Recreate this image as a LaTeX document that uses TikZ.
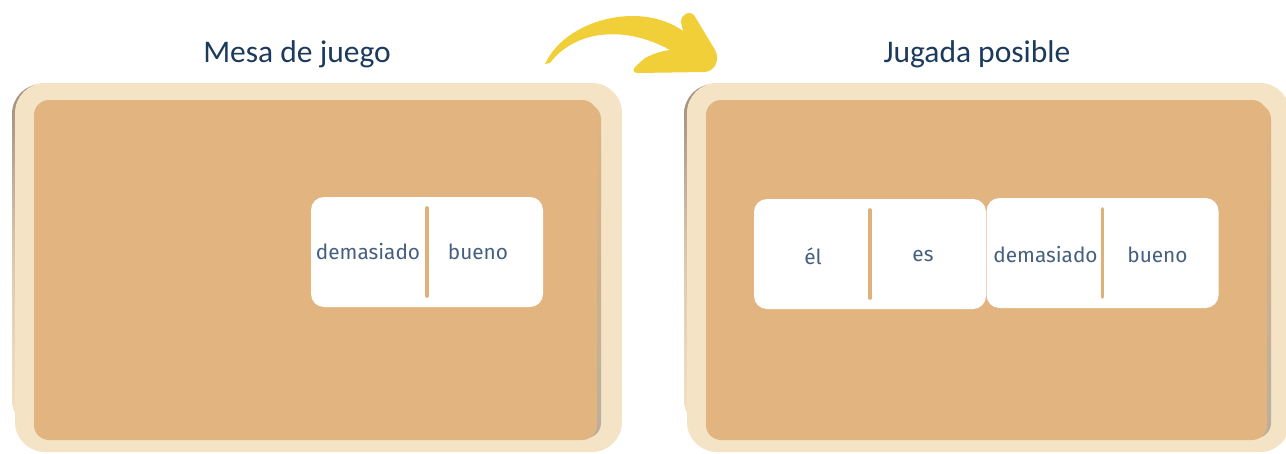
\documentclass[tikz,border=0pt]{standalone}
\usepackage{fontspec}
\setmainfont{Fira Sans}
\newfontfamily\titlefont{Carlito}
\usetikzlibrary{positioning}
\definecolor{navy}{HTML}{1B3A5C}
\definecolor{inkblue}{HTML}{45607F}
\definecolor{wood}{HTML}{F4E3C5}
\definecolor{woodedge}{HTML}{9E8E7A}
\definecolor{cork}{HTML}{E2B480}
\definecolor{corkshade}{HTML}{B8AF9F}
\definecolor{divline}{HTML}{E0B07A}
\definecolor{arrowyellow}{HTML}{F1CF38}

\tikzset{
  heading/.style={font=\titlefont\fontsize{31.5}{36}\selectfont, text=navy, anchor=base},
  tile/.style={fill=white, rounded corners=13, minimum width=232, minimum height=110, inner sep=0},
  word/.style={font=\fontsize{20.8}{24}\selectfont, text=inkblue, inner sep=1},
  divider/.style={draw=divline, line width=3.2, line cap=round}
}

\begin{document}
\begin{tikzpicture}[x=1pt, y=-1pt]
\useasboundingbox (0,0) rectangle (1286,453);

% boards: frame, cork
\foreach \fl/\fr/\cl/\cr in {15/622/34/597, 687/1290/706/1267}{
  \shade[top color=woodedge, bottom color=wood, middle color=wood!70!woodedge, rounded corners=30] (\fl-3,84) rectangle (\fr-3,430);
  \fill[wood, rounded corners=30] (\fl,83) rectangle (\fr,452);
  \shade[top color=cork, bottom color=corkshade, rounded corners=15] (\cl+4,104) rectangle (\cr+4,438);
  \fill[cork, rounded corners=15] (\cl,100) rectangle (\cr,440);
}

% titles
\node[heading] (mesa) at (297,62) {Mesa de juego};
\node[heading] (jugada) at (977,62) {Jugada posible};

% yellow arrow
\fill[arrowyellow] (545,64) .. controls (565,20) and (640,0) .. (683,31)
  -- (681,22) .. controls (681,14) and (690,10) .. (694,15)
  -- (715,50) .. controls (720,58) and (716,71) .. (705,72)
  -- (638,73) .. controls (633,73) and (632,70) .. (636,66)
  -- (645,58) .. controls (655,53) and (662,51) .. (670,50)
  .. controls (625,25) and (575,30) .. (550,63) -- cycle;

% tiles
\node[tile] (tileA) at (427,252) {};
\node[tile] (tileB) at (870,254) {};
\node[tile] (tileC) at (1102.5,253) {};
\foreach \t in {tileA,tileB,tileC}
  \draw[divider] ([yshift=-11]\t.north) -- ([yshift=11]\t.south);

\node[word] (demA) at ([xshift=-59]tileA.center) {demasiado};
\node[word] (bueA) at ([xshift=51]tileA.center) {bueno};
\node[word] (el) at ([xshift=-57,yshift=-2]tileB.center) {él};
\node[word] (es) at ([xshift=53,yshift=-2]tileB.center) {es};
\node[word] (demC) at ([xshift=-57,yshift=-2]tileC.center) {demasiado};
\node[word] (bueC) at ([xshift=55,yshift=-2]tileC.center) {bueno};
\end{tikzpicture}
\end{document}
